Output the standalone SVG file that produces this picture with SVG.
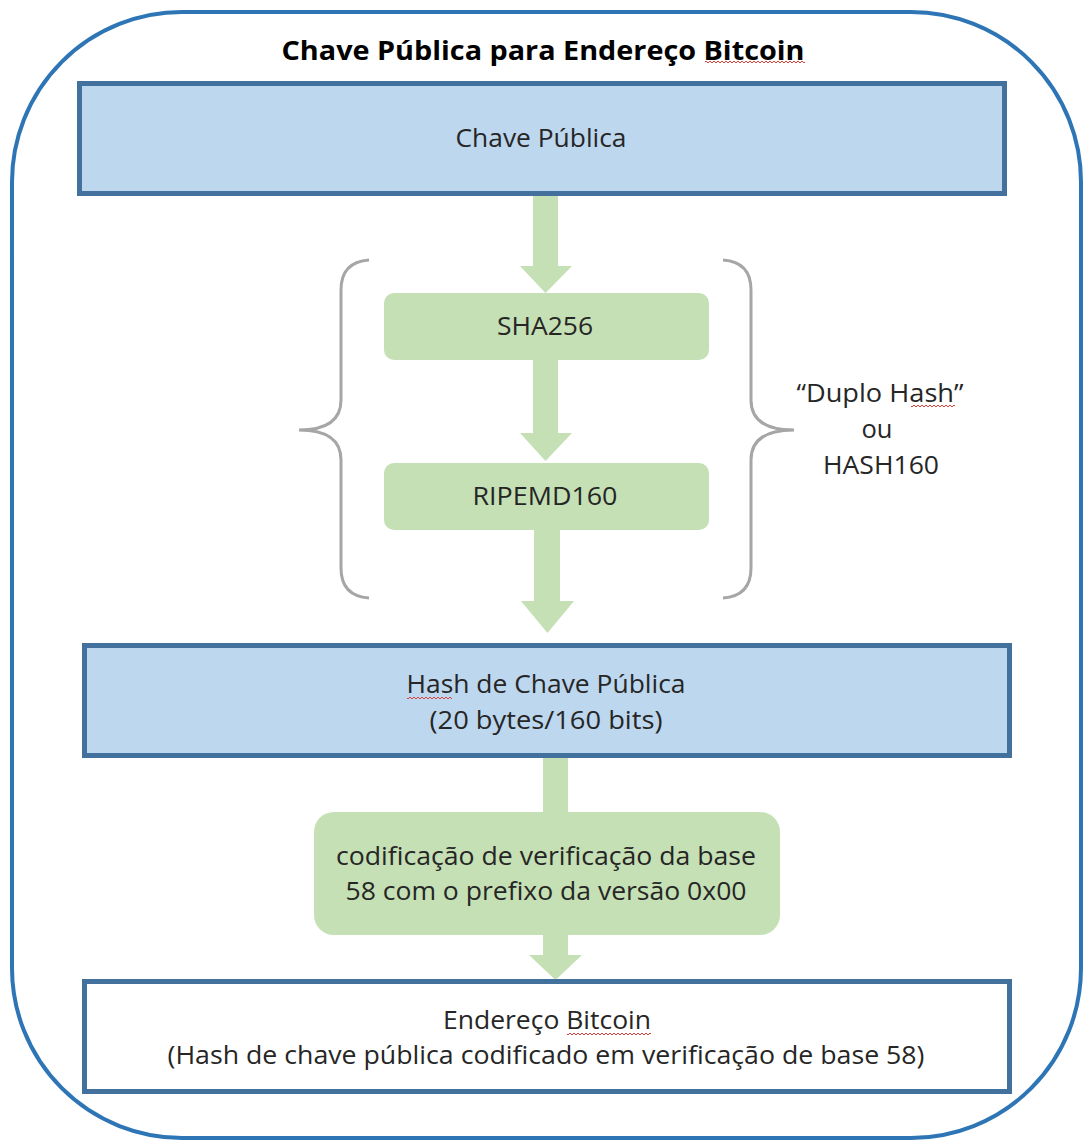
<svg xmlns="http://www.w3.org/2000/svg" width="1083" height="1142" viewBox="0 0 1083 1142">
  <defs>
    <style>
      .t { font-family: "Open Sans", "Noto Sans", "Liberation Sans", sans-serif; font-size: 25px; fill: #262626; text-anchor: middle; }
      .title { font-family: "Open Sans", "Noto Sans", "Liberation Sans", sans-serif; font-size: 27px; font-weight: bold; fill: #000; text-anchor: middle; }
      .blue { fill: #BDD7EE; stroke: #41719C; stroke-width: 5; }
      .white { fill: #FFFFFF; stroke: #41719C; stroke-width: 5; }
      .green { fill: #C5E0B4; }
      .arrow { fill: #C5E0B4; }
      .brace { fill: none; stroke: #A6A6A6; stroke-width: 3; }
    </style>
    <pattern id="squiggle" width="4" height="4" patternUnits="userSpaceOnUse">
      <path d="M0,3 L2,1 L4,3" fill="none" stroke="#E0403A" stroke-width="1"/>
    </pattern>
  </defs>

  <rect width="1083" height="1142" fill="#FFFFFF"/>

  <!-- outer frame -->
  <rect x="12" y="12" width="1069" height="1126" rx="170" ry="170" fill="none" stroke="#2E75B6" stroke-width="4"/>

  <text class="title" x="543" y="60" textLength="523" lengthAdjust="spacingAndGlyphs">Chave Pública para Endereço Bitcoin</text>

  <!-- connectors -->
  <g id="connectors">
    <polygon class="arrow" points="533,193 558,193 558,266 572,266 545.5,293 520,266 533,266"/>
    <polygon class="arrow" points="533,360 558,360 558,433 572,433 545.5,461 520,433 533,433"/>
    <polygon class="arrow" points="534,530 560,530 560,601 574,601 547.5,633 521,601 534,601"/>
    <rect class="arrow" x="543" y="755" width="25" height="60"/>
    <polygon class="arrow" points="543,933 568,933 568,955 582,955 555.5,980 529,955 543,955"/>
  </g>

  <!-- braces around the double hash -->
  <g id="braces">
    <path class="brace" d="M369,260 Q341,262 341,290 L341,400 Q341,430 299,430 Q341,430 341,460 L341,568 Q341,596 369,598"/>
    <path class="brace" d="M723,260 Q751,262 751,290 L751,400 Q751,430 794,430 Q751,430 751,460 L751,568 Q751,596 723,598"/>
  </g>

  <g id="node-chave-publica">
    <rect class="blue" x="79.5" y="83.5" width="925" height="110"/>
    <text class="t" x="541" y="147" textLength="171" lengthAdjust="spacingAndGlyphs">Chave Pública</text>
  </g>

  <g id="node-sha256">
    <rect class="green" x="384" y="293" width="325" height="67" rx="10" ry="10"/>
    <text class="t" x="545" y="335" textLength="96" lengthAdjust="spacingAndGlyphs">SHA256</text>
  </g>

  <g id="node-ripemd160">
    <rect class="green" x="384" y="463" width="325" height="67" rx="10" ry="10"/>
    <text class="t" x="545" y="505" textLength="145" lengthAdjust="spacingAndGlyphs">RIPEMD160</text>
  </g>

  <g id="label-duplo-hash">
    <text class="t" x="880" y="402" textLength="167" lengthAdjust="spacingAndGlyphs">“Duplo Hash”</text>
    <text class="t" x="877" y="438" textLength="31" lengthAdjust="spacingAndGlyphs">ou</text>
    <text class="t" x="881" y="474" textLength="116" lengthAdjust="spacingAndGlyphs">HASH160</text>
  </g>

  <g id="node-hash-chave">
    <rect class="blue" x="84.5" y="645.5" width="925" height="110"/>
    <text class="t" x="546" y="693" textLength="279" lengthAdjust="spacingAndGlyphs">Hash de Chave Pública</text>
    <text class="t" x="546" y="729" textLength="233" lengthAdjust="spacingAndGlyphs">(20 bytes/160 bits)</text>
  </g>

  <g id="node-base58">
    <rect class="green" x="314" y="812" width="466" height="123" rx="20" ry="20"/>
    <text class="t" x="546" y="865" textLength="420" lengthAdjust="spacingAndGlyphs">codificação de verificação da base</text>
    <text class="t" x="546" y="900" textLength="401" lengthAdjust="spacingAndGlyphs">58 com o prefixo da versão 0x00</text>
  </g>

  <g id="node-endereco">
    <rect class="white" x="84.5" y="981.5" width="925" height="110"/>
    <text class="t" x="547" y="1029" textLength="208" lengthAdjust="spacingAndGlyphs">Endereço Bitcoin</text>
    <text class="t" x="546" y="1064" textLength="757" lengthAdjust="spacingAndGlyphs">(Hash de chave pública codificado em verificação de base 58)</text>
  </g>

  <!-- spelling marks under flagged words -->
  <g id="spell-marks">
    <rect x="705" y="61" width="100" height="4" fill="url(#squiggle)"/>
    <rect x="911" y="405" width="44" height="4" fill="url(#squiggle)"/>
    <rect x="407" y="695" width="45" height="4" fill="url(#squiggle)"/>
    <rect x="567" y="1031" width="84" height="4" fill="url(#squiggle)"/>
  </g>
</svg>
